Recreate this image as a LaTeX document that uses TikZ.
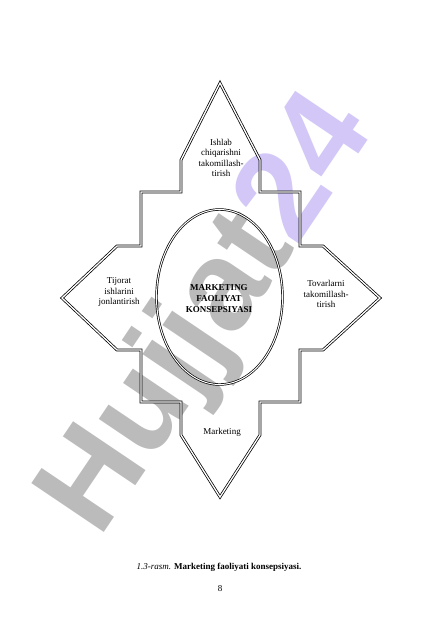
\documentclass[tikz,border=0pt]{standalone}
\usepackage{fontspec}
\setmainfont{Liberation Serif}
\newfontfamily\wmfont{Liberation Sans}
\usetikzlibrary{shapes.geometric}
\definecolor{wgray}{HTML}{BBBBBB}
\definecolor{wlilac}{HTML}{D3C7F8}

\begin{document}
\begin{tikzpicture}[x=1pt, y=-1pt,
  txt/.style={align=center, font=\fontsize{9}{10.5}\selectfont, inner sep=0pt},
  bold/.style={align=center, font=\fontsize{9}{11}\selectfont\bfseries, inner sep=0pt},
  rim/.style={draw, line width=0.75pt, double, double distance=1.3pt, line join=miter},
  oval/.style={ellipse, draw, line width=0.7pt, double, double distance=1pt, minimum width=126pt, minimum height=175pt},
]
  \fill[white] (0,0) rectangle (425,638);
  \useasboundingbox (0,0) rectangle (425,638);

  \node[rotate=56, anchor=base west, inner sep=0pt, font=\wmfont\bfseries\fontsize{127}{127}\selectfont] (mark) at (99,540) {\textcolor{wgray}{Hujjat}\textcolor{wlilac}{24}};

  \draw[rim] (220,83) -- (260,160) -- (260,192) -- (300,192) -- (300,246) -- (323,246)
    -- (380,298) -- (323,350) -- (300,350) -- (300,402) -- (260,402) -- (260,435)
    -- (220,497) -- (181,435) -- (181,402) -- (141,402) -- (141,350) -- (117,350)
    -- (62,298) -- (117,246) -- (141,246) -- (141,192) -- (181,192) -- (181,160) -- cycle;

  \node[oval] (ring) at (219.5,297) {};
  \node[bold] (core) at (219,299) {MARKETING\\FAOLIYAT\\KONSEPSIYASI};

  \node[txt] (prod) at (221,158) {Ishlab\\chiqarishni\\takomillash-\\tirish};
  \node[txt] (trade) at (119,292) {Tijorat\\ishlarini\\jonlantirish};
  \node[txt] (goods) at (326,294) {Tovarlarni\\takomillash-\\tirish};
  \node[txt] (mkt) at (222,432) {Marketing};

  \node[txt, anchor=base] (cap) at (219,569) {\textit{1.3-rasm.} \textbf{Marketing faoliyati konsepsiyasi.}};
  \node[txt, anchor=base] (page) at (220,591) {8};
\end{tikzpicture}
\end{document}
